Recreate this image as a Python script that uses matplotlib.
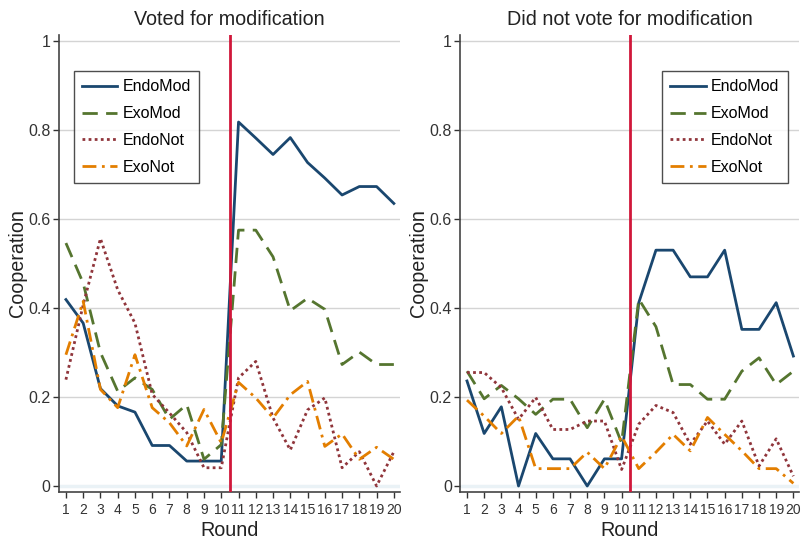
import numpy as np
import matplotlib
matplotlib.use('Agg')
import matplotlib.pyplot as plt

plt.rcParams['font.family'] = ['Liberation Sans', 'DejaVu Sans']

rounds = list(range(1, 21))
series_names = ['EndoMod', 'ExoMod', 'EndoNot', 'ExoNot']

# Voted for modification
voted_endomod = [0.419, 0.366, 0.219, 0.180, 0.166, 0.091, 0.091, 0.056, 0.056, 0.056,
                 0.818, 0.782, 0.745, 0.783, 0.727, 0.692, 0.654, 0.673, 0.673, 0.635]
voted_exomod = [0.546, 0.456, 0.300, 0.213, 0.243, 0.217, 0.150, 0.183, 0.060, 0.093,
                0.575, 0.575, 0.515, 0.394, 0.422, 0.397, 0.273, 0.301, 0.273, 0.273]
voted_endonot = [0.239, 0.407, 0.556, 0.441, 0.366, 0.206, 0.164, 0.120, 0.041, 0.041,
                 0.243, 0.280, 0.153, 0.081, 0.171, 0.198, 0.041, 0.077, 0.000, 0.077]
voted_exonot = [0.295, 0.415, 0.217, 0.176, 0.295, 0.176, 0.142, 0.090, 0.172, 0.097,
                0.233, 0.198, 0.153, 0.205, 0.235, 0.089, 0.117, 0.060, 0.087, 0.060]

# Did not vote for modification
novote_endomod = [0.236, 0.118, 0.178, 0.000, 0.118, 0.061, 0.061, 0.000, 0.061, 0.061,
                  0.412, 0.530, 0.530, 0.470, 0.470, 0.530, 0.352, 0.352, 0.412, 0.292]
novote_exomod = [0.258, 0.196, 0.226, 0.196, 0.161, 0.195, 0.195, 0.131, 0.195, 0.097,
                 0.420, 0.358, 0.228, 0.228, 0.195, 0.195, 0.258, 0.288, 0.228, 0.258]
novote_endonot = [0.255, 0.255, 0.221, 0.150, 0.199, 0.127, 0.127, 0.146, 0.146, 0.037,
                  0.139, 0.181, 0.165, 0.094, 0.146, 0.094, 0.146, 0.045, 0.106, 0.022]
novote_exonot = [0.193, 0.157, 0.118, 0.157, 0.039, 0.039, 0.039, 0.076, 0.039, 0.112,
                 0.039, 0.076, 0.116, 0.079, 0.154, 0.116, 0.079, 0.039, 0.039, 0.006]

colors = ['#1a476f', '#55752f', '#90353b', '#e37e00']
styles = ['-', (0, (5.5, 3)), (0, (1, 1.2)), (0, (5, 2, 1, 2))]

fig = plt.figure(figsize=(8.03, 5.39), dpi=100)

panels = [
    ('Voted for modification', [voted_endomod, voted_exomod, voted_endonot, voted_exonot],
     [0.0735, 0.0872, 0.4245, 0.8478], ('upper left', (0.044, 0.921))),
    ('Did not vote for modification', [novote_endomod, novote_exomod, novote_endonot, novote_exonot],
     [0.573, 0.0872, 0.4225, 0.8478], ('upper right', (0.965, 0.921))),
]

for title, data, rect, (loc, anchor) in panels:
    ax = fig.add_axes(rect)
    for yv in [0.2, 0.4, 0.6, 0.8, 1.0]:
        ax.axhline(yv, color='#d4d4d4', lw=1.0, zorder=0)
    ax.axhline(0, color='#eaf2f6', lw=2.5, zorder=0)
    for vals, name, c, ls in zip(data, series_names, colors, styles):
        ax.plot(rounds, vals, color=c, linestyle=ls, lw=2.0, label=name, zorder=3)
    ax.axvline(10.5, color='#d0173a', lw=2.0, zorder=4)
    ax.set_xlim(0.6, 20.35)
    ax.set_ylim(-0.0135, 1.0135)
    ax.set_xticks(rounds)
    ax.set_yticks([0, 0.2, 0.4, 0.6, 0.8, 1.0])
    ax.set_yticklabels(['0', '0.2', '0.4', '0.6', '0.8', '1'])
    ax.tick_params(axis='x', labelsize=10, length=4, width=1, pad=4, colors='#333333')
    ax.tick_params(axis='y', labelsize=11.5, length=4, width=1, pad=2, colors='#333333')
    for s in ['top', 'right']:
        ax.spines[s].set_visible(False)
    ax.spines['left'].set_color('#444444')
    ax.spines['bottom'].set_color('#444444')
    ax.spines['left'].set_linewidth(1.2)
    ax.spines['bottom'].set_linewidth(1.2)
    ax.set_title(title, fontsize=14.2, color='#222222', pad=7)
    ax.set_xlabel('Round', fontsize=14.2, color='#222222', labelpad=3)
    ax.set_ylabel('Cooperation', fontsize=14.2, color='#222222', labelpad=1)
    leg = ax.legend(loc=loc, bbox_to_anchor=anchor, fontsize=11.5, frameon=True,
                    fancybox=False, edgecolor='#222222', handlelength=2.2,
                    labelspacing=0.75, borderpad=0.5, handletextpad=0.35,
                    borderaxespad=0)
    leg.get_frame().set_linewidth(1.0)

fig.savefig('out.png', dpi=100)
